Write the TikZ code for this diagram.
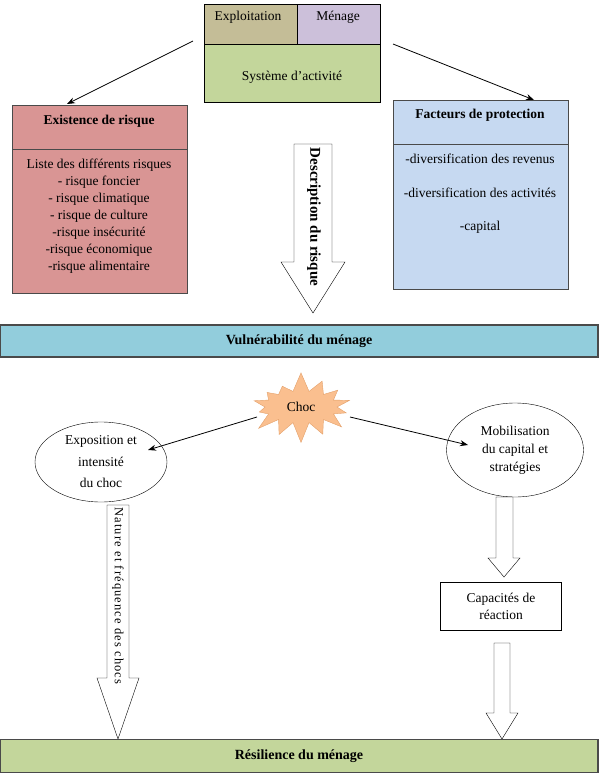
\documentclass[tikz,border=0pt]{standalone}
\usepackage{fontspec}
\setmainfont{Liberation Serif}
\newfontfamily\spacedfont[LetterSpace=9]{Liberation Serif}
\usetikzlibrary{shapes.symbols,shapes.geometric,arrows.meta,calc}
\definecolor{tanbox}{HTML}{C4BD97}
\definecolor{lilacbox}{HTML}{CCC0DA}
\definecolor{greenbox}{HTML}{C3D69B}
\definecolor{rosebox}{HTML}{D99594}
\definecolor{bluebox}{HTML}{C6D9F1}
\definecolor{cyanbar}{HTML}{92CDDC}
\definecolor{chocfill}{HTML}{FABF8F}
\definecolor{chocline}{HTML}{E3A06A}
\definecolor{edge}{HTML}{4A4A4A}
\tikzset{
  arr/.style={-{Stealth[length=8pt,width=6pt]},line width=0.8pt},
  bar/.style={draw=edge,line width=1.2pt,minimum width=598pt,font=\fontsize{14}{16}\selectfont\bfseries},
  bubble/.style={ellipse,draw,align=center,inner sep=0pt}
}
\begin{document}
\begin{tikzpicture}[x=1pt,y=-1pt,font=\fontsize{13.5}{17}\selectfont]
\useasboundingbox (0,0) rectangle (601,775);
% system box at the top
\draw[fill=tanbox] (204,4) rectangle (297,44);
\draw[fill=lilacbox] (297,4) rectangle (380,44);
\draw[fill=greenbox] (204,44) rectangle (380,102);
\node (exploit) at (248,17) {Exploitation};
\node (menage) at (338,17) {Ménage};
\node (systeme) at (292,77) {Système d’activité};
\coordinate (sysleft) at (193,41);
\coordinate (sysright) at (393,44);
% risk box
\draw[draw=edge,fill=rosebox] (12,105) rectangle (187,293);
\draw[draw=edge] (12,149) -- (187,149);
\node[font=\fontsize{13.5}{17}\selectfont\bfseries] (risque) at (99,121) {Existence de risque};
\node[align=center] (liste) at (99,216) {Liste des différents risques\\- risque foncier\\- risque climatique\\- risque de culture\\-risque insécurité\\-risque économique\\-risque alimentaire};
\coordinate (risquetop) at (67,104);
% protection box
\draw[draw=edge,fill=bluebox] (393,100) rectangle (568,289);
\draw[draw=edge] (393,144) -- (568,144);
\node[font=\fontsize{13.5}{17}\selectfont\bfseries] (protect) at (480,115) {Facteurs de protection};
\node (revenus) at (480,159) {-diversification des revenus};
\node (activ) at (480,193) {-diversification des activités};
\node (capital) at (480,227) {-capital};
\coordinate (protecttop) at (534,100);
\draw[arr] (sysleft) -- (risquetop);
\draw[arr] (sysright) -- (protecttop);
% description arrow
\draw[fill=white] (294,144) -- (332,144) -- (332,262) -- (345,262) -- (313,313) -- (281,262) -- (294,262) -- cycle;
\node[rotate=-90,font=\fontsize{15}{17}\selectfont\bfseries] (descr) at (314,217) {Description du risque};
% vulnerability bar
\node[bar,fill=cyanbar,minimum height=32pt] (vulne) at (299,341) {Vulnérabilité du ménage};
% shock
\node[starburst,starburst points=14,starburst point height=20pt,random starburst=7,
  minimum width=112pt,minimum height=72pt,fill=chocfill,draw=chocline,inner sep=0pt] (choc) at (301,407) {Choc};
\node[bubble,minimum width=132pt,minimum height=80pt,font=\fontsize{13.5}{21.5}\selectfont] (expo) at (101,462) {Exposition et\\intensité\\du choc};
\node[bubble,minimum width=137pt,minimum height=94pt,font=\fontsize{13.5}{18}\selectfont] (mobil) at (515,450) {Mobilisation\\du capital et\\stratégies};
\draw[arr] ($(choc.center)+(-44,10)$) -- ($(expo.center)+(47,-12)$);
\draw[arr] ($(choc.center)+(49,10)$) -- ($(mobil.center)+(-47,-5)$);
% nature arrow
\draw[fill=white] (107,505) -- (129,505) -- (129,678) -- (139,678) -- (118,739) -- (97,678) -- (107,678) -- cycle;
\node[rotate=-90,font=\fontsize{12.5}{14}\spacedfont] (nature) at (118,596) {Nature et fréquence des chocs};
% reaction side
\draw[fill=white] (496,497) -- (513,497) -- (513,558) -- (520,558) -- (504,577) -- (488,558) -- (496,558) -- cycle;
\node[draw,align=center,minimum width=121pt,minimum height=48pt] (capa) at (501,606) {Capacités de\\réaction};
\draw[fill=white] (494,643) -- (510,643) -- (510,713) -- (518,713) -- (502,739) -- (486,713) -- (494,713) -- cycle;
% resilience bar
\node[bar,fill=greenbox,minimum height=33pt] (resil) at (299,756) {Résilience du ménage};
\end{tikzpicture}
\end{document}
